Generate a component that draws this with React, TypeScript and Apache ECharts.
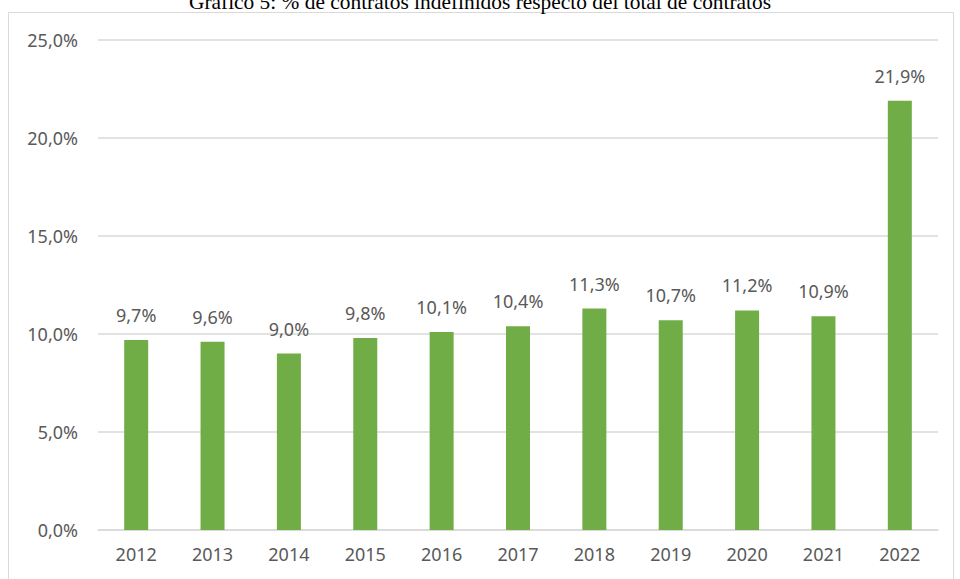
import React, { useEffect, useRef } from "react";
import * as echarts from "echarts";

const years = ["2012", "2013", "2014", "2015", "2016", "2017", "2018", "2019", "2020", "2021", "2022"];
const values = [9.7, 9.6, 9.0, 9.8, 10.1, 10.4, 11.3, 10.7, 11.2, 10.9, 21.9];
const titleText = "Gráfico 5: % de contratos indefinidos respecto del total de contratos";

const fmt = (v: number) => v.toFixed(1).replace(".", ",") + "%";

export default function App() {
  const ref = useRef<HTMLDivElement>(null);
  useEffect(() => {
    const chart = echarts.init(ref.current!, null, { renderer: "svg" });
    chart.setOption({
      animation: false,
      backgroundColor: "#ffffff",
      title: {
        text: titleText,
        left: "center",
        top: -14,
        textStyle: { fontFamily: "Liberation Serif", fontSize: 21.4, fontWeight: "normal", color: "#000000" },
      },
      graphic: [
        {
          type: "rect",
          shape: { x: 8.5, y: 12.5, width: 945, height: 600 },
          style: { fill: "none", stroke: "#d9d9d9", lineWidth: 1 },
          silent: true,
        },
      ],
      grid: { left: 98, right: 22, top: 40, bottom: 49 },
      xAxis: {
        type: "category",
        data: years,
        axisLine: { lineStyle: { color: "#d9d9d9", width: 1.5 } },
        axisTick: { show: false },
        axisLabel: { color: "#595959", fontFamily: "Noto Sans", fontSize: 18, margin: 15 },
      },
      yAxis: {
        type: "value",
        min: 0,
        max: 25,
        interval: 5,
        axisLine: { show: false },
        axisTick: { show: false },
        splitLine: { lineStyle: { color: "#d9d9d9", width: 1.5 } },
        axisLabel: {
          color: "#595959",
          fontFamily: "Noto Sans",
          fontSize: 18,
          margin: 20,
          formatter: (v: number) => fmt(v),
        },
      },
      series: [
        {
          type: "bar",
          data: values,
          barWidth: 24,
          itemStyle: { color: "#70ad47" },
          label: {
            show: true,
            position: "top",
            distance: 16,
            color: "#595959",
            fontFamily: "Noto Sans",
            fontSize: 18,
            formatter: (p: any) => fmt(p.value),
          },
        },
      ],
    });
    return () => chart.dispose();
  }, []);
  return <div ref={ref} style={{ width: 960, height: 579, position: "absolute", left: 0, top: 0 }} />;
}
